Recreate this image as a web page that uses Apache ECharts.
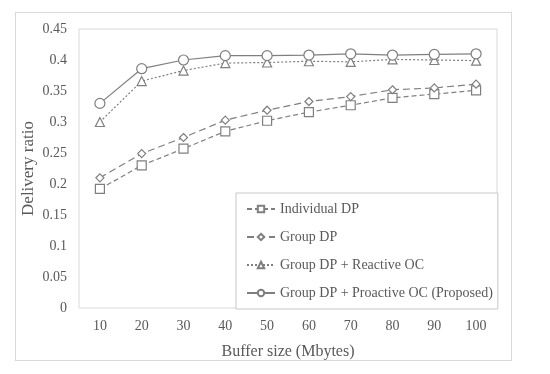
<!DOCTYPE html>
<html><head><meta charset="utf-8">
<script src="https://cdn.jsdelivr.net/npm/echarts@6/dist/echarts.min.js"></script>
<style>html,body{margin:0;padding:0;background:#fff}#frame{position:absolute;left:15px;top:12px;width:497px;height:349px;border:1px solid #d9d9d9;box-sizing:border-box}#c{position:absolute;left:0;top:0;width:550px;height:374px}</style>
</head><body><div id="frame"></div><div id="c"></div>
<script>
var categories = ['10','20','30','40','50','60','70','80','90','100'];
var individualDP = [0.192,0.230,0.257,0.285,0.302,0.316,0.327,0.339,0.345,0.351];
var groupDP = [0.210,0.249,0.275,0.303,0.319,0.333,0.341,0.352,0.355,0.361];
var reactiveOC = [0.300,0.366,0.383,0.395,0.396,0.398,0.397,0.401,0.400,0.399];
var proactiveOC = [0.330,0.386,0.400,0.407,0.407,0.408,0.410,0.408,0.409,0.410];
var yTicks = [0,0.05,0.1,0.15,0.2,0.25,0.3,0.35,0.4,0.45];

var font = 'Liberation Serif';
var lineColor = '#7f7f7f';
function mk(name, data, symbol, size, dash){
  return {name:name, type:'line', data:data, symbol:symbol, symbolSize:size,
    lineStyle:{color:lineColor, width:1.2, type:dash},
    itemStyle:{color:'#fff', borderColor:lineColor, borderWidth:1.2},
    emphasis:{disabled:true}, animation:false, z: 3};
}
var chart = echarts.init(document.getElementById('c'), null, {renderer:'canvas'});
chart.setOption({
  animation:false,
  grid:{left:79, right:53, top:29, bottom:66, show:true, borderColor:'#d9d9d9', borderWidth:1, backgroundColor:'transparent'},
  xAxis:{type:'category', data:categories, boundaryGap:true,
    axisLine:{show:false}, axisTick:{show:false},
    axisLabel:{color:'#595959', fontFamily:font, fontSize:14, margin:11},
    name:'Buffer size (Mbytes)', nameLocation:'middle', nameGap:36,
    nameTextStyle:{color:'#595959', fontFamily:font, fontSize:16}},
  yAxis:{type:'value', min:0, max:0.45, interval:0.05,
    axisLine:{show:false}, axisTick:{show:false}, splitLine:{show:false},
    axisLabel:{color:'#595959', fontFamily:font, fontSize:14, margin:12,
      formatter:function(v){ var t = yTicks.filter(function(x){return Math.abs(x-v)<1e-9;}); return t.length? String(+t[0].toFixed(2)) : ''; }},
    name:'Delivery ratio', nameLocation:'middle', nameGap:42, nameMoveOverlap:false,
    nameTextStyle:{color:'#595959', fontFamily:font, fontSize:17}},
  legend:{orient:'vertical', left:236, top:193,
    backgroundColor:'#fff', borderColor:'#c8c8c8', borderWidth:1,
    padding:[9,5,9,10], itemGap:14, itemWidth:28, itemHeight:8,
    textStyle:{color:'#595959', fontFamily:font, fontSize:14},
    data:['Individual DP','Group DP','Group DP + Reactive OC','Group DP + Proactive OC (Proposed)']},
  series:[
    mk('Individual DP', individualDP, 'rect', 9, [5,3]),
    mk('Group DP', groupDP, 'diamond', 8, [7,4]),
    mk('Group DP + Reactive OC', reactiveOC, 'triangle', 9, [2,2]),
    mk('Group DP + Proactive OC (Proposed)', proactiveOC, 'circle', 10, 'solid')
  ]
});
</script></body></html>
